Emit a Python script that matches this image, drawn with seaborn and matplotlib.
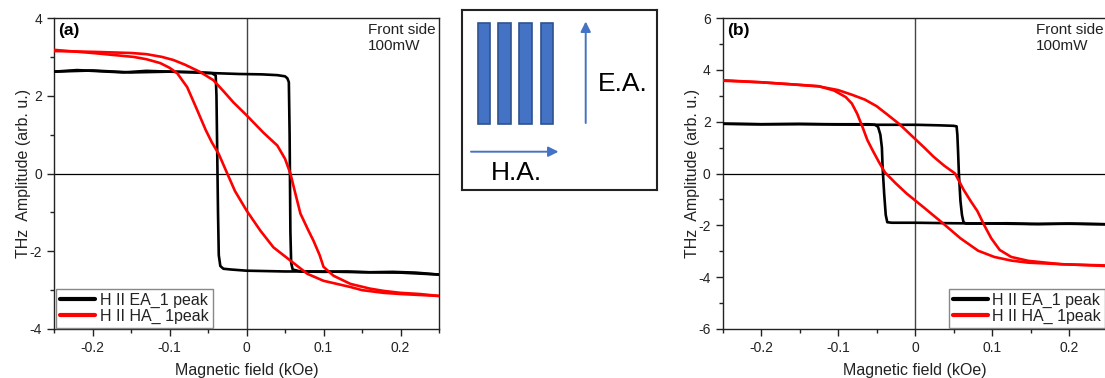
import numpy as np
import pandas as pd
import matplotlib
matplotlib.use("Agg")
import matplotlib.pyplot as plt
from matplotlib.lines import Line2D
import seaborn as sns

# ---------------- measured loops ----------------
# Panel (a): field in kOe, THz amplitude in arb. u.
ea_a_fwd_field = [-0.25, -0.22, -0.19, -0.16, -0.13, -0.10, -0.07, -0.04, -0.01, 0.02, 0.04,
                  0.05, 0.053, 0.055, 0.056, 0.057, 0.058, 0.06, 0.07, 0.10, 0.13, 0.16, 0.19, 0.22, 0.25]
ea_a_fwd_amp = [2.62, 2.66, 2.63, 2.60, 2.64, 2.62, 2.61, 2.58, 2.56, 2.55, 2.53,
                2.50, 2.45, 2.35, 1.0, -1.5, -2.3, -2.47, -2.52, -2.53, -2.52, -2.54, -2.53, -2.55, -2.60]
ea_a_rev_field = [0.25, 0.20, 0.15, 0.10, 0.05, 0.0, -0.02, -0.03, -0.034, -0.036, -0.037,
                  -0.038, -0.039, -0.040, -0.045, -0.07, -0.10, -0.15, -0.20, -0.25]
ea_a_rev_amp = [-2.60, -2.55, -2.54, -2.52, -2.52, -2.50, -2.47, -2.45, -2.38, -2.1, -1.0,
                0.5, 2.0, 2.52, 2.58, 2.60, 2.62, 2.60, 2.65, 2.62]

ha_a_fwd_field = [-0.25, -0.2, -0.15, -0.13, -0.11, -0.095, -0.08, -0.06, -0.043, -0.03, -0.017,
                  0.0, 0.022, 0.04, 0.05, 0.057, 0.062, 0.07, 0.08, 0.087, 0.095, 0.10, 0.113,
                  0.135, 0.16, 0.178, 0.2, 0.225, 0.25]
ha_a_fwd_amp = [3.15, 3.13, 3.10, 3.07, 3.0, 2.92, 2.8, 2.61, 2.4, 2.12, 1.83,
                1.5, 1.05, 0.72, 0.38, 0.0, -0.4, -1.03, -1.45, -1.73, -2.1, -2.4, -2.63,
                -2.84, -2.96, -3.02, -3.07, -3.1, -3.15]
ha_a_rev_field = [0.25, 0.2, 0.178, 0.15, 0.135, 0.1, 0.079, 0.057, 0.035, 0.018, 0.0, -0.015,
                  -0.025, -0.036, -0.045, -0.053, -0.064, -0.077, -0.09, -0.1, -0.112, -0.13,
                  -0.147, -0.2, -0.25]
ha_a_rev_amp = [-3.15, -3.1, -3.07, -3.0, -2.92, -2.76, -2.58, -2.24, -1.9, -1.47, -0.95, -0.45,
                0.0, 0.5, 0.8, 1.12, 1.63, 2.22, 2.58, 2.72, 2.84, 2.94,
                3.0, 3.1, 3.18]

# Panel (b)
ea_b_fwd_field = [-0.25, -0.2, -0.15, -0.1, -0.05, 0.0, 0.03, 0.05, 0.054, 0.055, 0.056, 0.057,
                  0.059, 0.061, 0.063, 0.066, 0.08, 0.12, 0.16, 0.2, 0.25]
ea_b_fwd_amp = [1.92, 1.90, 1.91, 1.89, 1.88, 1.88, 1.86, 1.84, 1.82, 1.5, 0.8, 0.0,
                -1.05, -1.6, -1.88, -1.93, -1.93, -1.92, -1.95, -1.93, -1.96]
ea_b_rev_field = [0.25, 0.2, 0.15, 0.1, 0.05, 0.0, -0.03, -0.036, -0.038, -0.040, -0.042, -0.043,
                  -0.045, -0.048, -0.052, -0.06, -0.1, -0.15, -0.2, -0.25]
ea_b_rev_amp = [-1.96, -1.94, -1.95, -1.93, -1.92, -1.90, -1.90, -1.88, -1.6, -0.8, 0.2, 1.0,
                1.5, 1.8, 1.88, 1.90, 1.90, 1.91, 1.90, 1.92]

ha_b_fwd_field = [-0.25, -0.2, -0.16, -0.125, -0.1, -0.082, -0.065, -0.05, -0.037, -0.02, -0.003,
                  0.012, 0.024, 0.038, 0.052, 0.063, 0.072, 0.081, 0.09, 0.099, 0.11, 0.125,
                  0.147, 0.19, 0.25]
ha_b_fwd_amp = [3.58, 3.52, 3.44, 3.36, 3.22, 3.04, 2.85, 2.6, 2.3, 1.9, 1.42,
                1.0, 0.65, 0.3, 0.0, -0.62, -1.05, -1.45, -2.0, -2.5, -2.95, -3.22,
                -3.37, -3.5, -3.57]
ha_b_rev_field = [0.25, 0.19, 0.147, 0.125, 0.103, 0.082, 0.059, 0.037, 0.011, -0.011, -0.025,
                  -0.039, -0.047, -0.055, -0.062, -0.068, -0.075, -0.082, -0.09, -0.105,
                  -0.125, -0.16, -0.2, -0.25]
ha_b_rev_amp = [-3.55, -3.5, -3.44, -3.36, -3.22, -2.98, -2.5, -1.94, -1.3, -0.77, -0.38,
                0.04, 0.45, 0.89, 1.3, 1.78, 2.3, 2.7, 2.95, 3.2,
                3.37, 3.44, 3.52, 3.6]

series_labels = ["H II EA_1 peak", "H II HA_ 1peak"]
panel_tags = ["(a)", "(b)"]
condition_text = "Front side\n100mW"
x_ticks = [-0.2, -0.1, 0, 0.1, 0.2]
y_ticks_a = [-4, -2, 0, 2, 4]
y_ticks_b = [-6, -4, -2, 0, 2, 4, 6]


def loop_frame(ea_fwd, ea_rev, ha_fwd, ha_rev):
    parts = []
    for name, (f, a) in [("EA fwd", ea_fwd), ("EA rev", ea_rev),
                         ("HA fwd", ha_fwd), ("HA rev", ha_rev)]:
        parts.append(pd.DataFrame({"field": f, "amplitude": a,
                                   "series": name.split()[0], "sweep": name}))
    return pd.concat(parts, ignore_index=True)


df_a = loop_frame((ea_a_fwd_field, ea_a_fwd_amp), (ea_a_rev_field, ea_a_rev_amp),
                  (ha_a_fwd_field, ha_a_fwd_amp), (ha_a_rev_field, ha_a_rev_amp))
df_b = loop_frame((ea_b_fwd_field, ea_b_fwd_amp), (ea_b_rev_field, ea_b_rev_amp),
                  (ha_b_fwd_field, ha_b_fwd_amp), (ha_b_rev_field, ha_b_rev_amp))

# ---------------- styling ----------------
sns.set_style("ticks")
plt.rcParams["font.family"] = ["Liberation Sans", "DejaVu Sans"]
plt.rcParams["axes.unicode_minus"] = False
plt.rcParams["xtick.direction"] = "out"
plt.rcParams["ytick.direction"] = "out"

W, H = 1105, 378
fig = plt.figure(figsize=(W / 100, H / 100), dpi=100)

ax_a = fig.add_axes([54 / W, 1 - 329 / H, 385 / W, 311 / H])
ax_b = fig.add_axes([722.5 / W, 1 - 329 / H, 385 / W, 311 / H])

palette = {"EA": "black", "HA": "#ff0000"}
text_col = "#222222"


def draw_panel(ax, df, yticks, ylim, tag, legend_loc, legend_anchor):
    ax.axvline(0, color="#444444", lw=1.0, zorder=1)
    ax.axhline(0, color="black", lw=0.9, zorder=1)
    sns.lineplot(data=df, x="field", y="amplitude", hue="series", hue_order=["EA", "HA"],
                 units="sweep", estimator=None, sort=False, palette=palette,
                 linewidth=1.9, legend=False, ax=ax, zorder=3)
    ax.set_xlim(-0.25, 0.25)
    ax.set_ylim(*ylim)
    ax.set_xticks(x_ticks)
    ax.set_xticklabels([f"{t:g}" for t in x_ticks])
    ax.set_xticks(np.arange(-0.25, 0.26, 0.1), minor=True)
    ax.set_yticks(yticks)
    ax.set_yticklabels([f"{t:g}" for t in yticks])
    step = yticks[1] - yticks[0]
    ax.set_yticks(np.arange(ylim[0] + step / 2, ylim[1], step), minor=True)
    ax.tick_params(which="major", length=5, width=1, color="#222222",
                   labelsize=10, labelcolor=text_col, pad=3.5)
    ax.tick_params(which="minor", length=3, width=1, color="#222222")
    ax.tick_params(top=False, right=False, which="both")
    for s in ax.spines.values():
        s.set_visible(True)
        s.set_color("#222222")
        s.set_linewidth(1.0)
    ax.set_xlabel("Magnetic field (kOe)", fontsize=11.5, color=text_col, labelpad=6)
    ax.set_ylabel("THz  Amplitude (arb. u.)", fontsize=11.5, color=text_col, labelpad=-1)
    ax.text(0.012, 0.985, tag, transform=ax.transAxes, ha="left", va="top",
            fontsize=12.5, fontweight="bold", color="black")
    ax.text(0.99, 0.985, condition_text, transform=ax.transAxes, ha="right", va="top",
            multialignment="left", fontsize=11, color=text_col, linespacing=1.25)
    handles = [Line2D([], [], color=palette[k], lw=3.0) for k in ["EA", "HA"]]
    leg = ax.legend(handles, series_labels, loc=legend_loc, bbox_to_anchor=legend_anchor,
                    bbox_transform=ax.transAxes, borderaxespad=0, fontsize=11.5,
                    handlelength=2.2, handletextpad=0.3, borderpad=0.25, labelspacing=0.08,
                    frameon=True, fancybox=False, framealpha=1)
    leg.get_frame().set_edgecolor("#888888")
    leg.get_frame().set_linewidth(1.0)
    for t in leg.get_texts():
        t.set_color(text_col)


draw_panel(ax_a, df_a, y_ticks_a, (-4, 4), panel_tags[0], "lower left", (0.006, 0.003))
draw_panel(ax_b, df_b, y_ticks_b, (-6, 6), panel_tags[1], "lower right", (0.994, 0.003))

# ---------------- easy / hard axis schematic ----------------
ins = fig.add_axes([462 / W, 1 - 190 / H, 195 / W, 180 / H])
ins.set_xlim(0, 195)
ins.set_ylim(180, 0)
ins.set_xticks([])
ins.set_yticks([])
for s in ins.spines.values():
    s.set_visible(True)
    s.set_color("#222222")
    s.set_linewidth(1.5)

stripe_x = [22.2, 42.5, 63.5, 85.2]
ins.bar(stripe_x, [101.5] * 4, bottom=12.7, width=12.5, color="#4472C4",
        edgecolor="#2F528F", linewidth=1.2)
arrow_props = dict(arrowstyle="-|>", color="#4472C4", lw=1.4, mutation_scale=15,
                   shrinkA=0, shrinkB=0)
ins.annotate("", xy=(123.7, 11.5), xytext=(123.7, 113), arrowprops=arrow_props)
ins.annotate("", xy=(96.5, 141.7), xytext=(9, 141.7), arrowprops=arrow_props)
ins.text(160.5, 74, "E.A.", ha="center", va="center", fontsize=19, color="black")
ins.text(54.5, 163, "H.A.", ha="center", va="center", fontsize=19, color="black")

fig.savefig("out.png", dpi=100)
